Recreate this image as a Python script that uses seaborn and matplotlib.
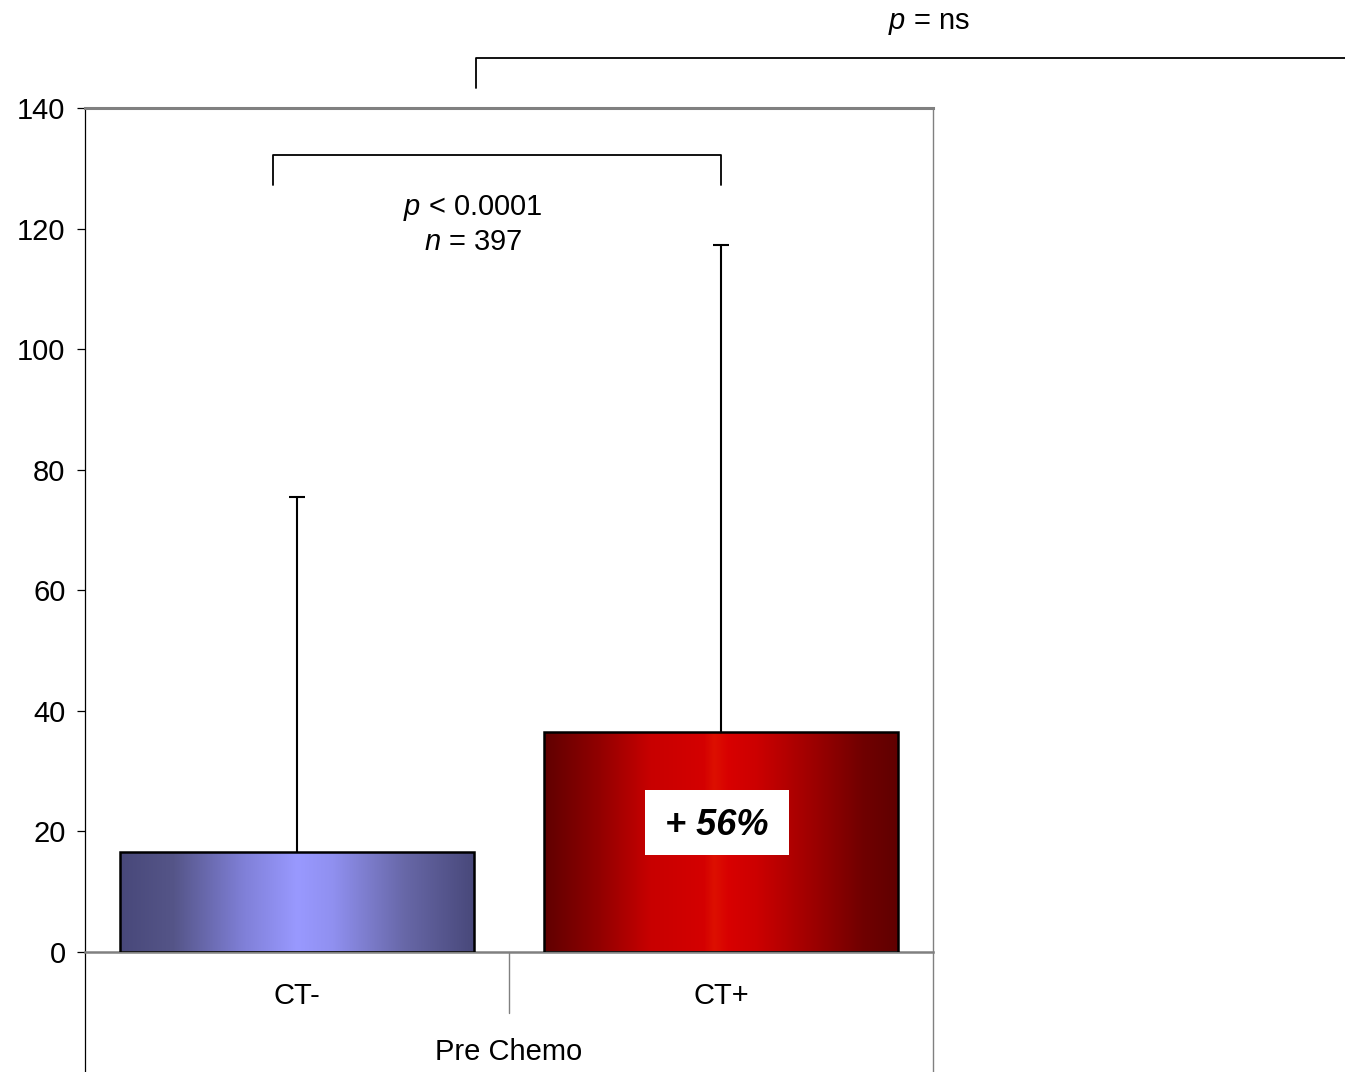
import numpy as np
import pandas as pd
import matplotlib
matplotlib.use("Agg")
import matplotlib.pyplot as plt
from matplotlib.patches import Rectangle
from matplotlib.colors import LinearSegmentedColormap
import seaborn as sns

# ---- data ----
categories = ["CT-", "CT+"]
means = [16.6, 36.5]
upper_sd = [58.9, 80.8]          # error above the bar top
group_label = "Pre Chemo"
yticks = [0, 20, 40, 60, 80, 100, 120, 140]
inner_text = ["$p$ < 0.0001", "$n$ = 397"]
outer_text = "$p$ = ns"
pct_text = "+ 56%"

sns.set_theme(style="white")
plt.rcParams["font.family"] = ["Liberation Sans", "DejaVu Sans"]
plt.rcParams["mathtext.fontset"] = "custom"
plt.rcParams["mathtext.rm"] = "Liberation Sans"
plt.rcParams["mathtext.it"] = "Liberation Sans:italic"
plt.rcParams["text.color"] = "black"
plt.rcParams["ytick.color"] = "black"
plt.rcParams["ytick.labelcolor"] = "black"

W, H = 1345, 1072
fig = plt.figure(figsize=(W / 100, H / 100), dpi=100)
L, R, T, B = 85, 933, 108, 952
ax = fig.add_axes([L / W, 1 - B / H, (R - L) / W, (B - T) / H])

df = pd.DataFrame({"cat": categories, "val": means})
sns.barplot(data=df, x="cat", y="val", ax=ax, width=0.835, errorbar=None,
            color="white", edgecolor="black", linewidth=1.8)

grads = [
    [(0.0, "#48487a"), (0.15, "#555588"), (0.35, "#8080d8"), (0.5, "#9999ff"),
     (0.6, "#9090f0"), (0.8, "#6868a8"), (1.0, "#48487a")],
    [(0.0, "#600000"), (0.15, "#900000"), (0.3, "#c80000"), (0.45, "#d40000"),
     (0.48, "#dd1000"), (0.52, "#d80000"), (0.6, "#cc0000"), (0.75, "#a00000"),
     (0.9, "#700000"), (1.0, "#600000")],
]
for patch, cols in zip(ax.patches, grads):
    x0, y0 = patch.get_x(), patch.get_y()
    w, h = patch.get_width(), patch.get_height()
    cmap = LinearSegmentedColormap.from_list("g", cols)
    grad = np.linspace(0, 1, 512).reshape(1, -1)
    im = ax.imshow(grad, extent=[x0, x0 + w, y0, y0 + h], aspect="auto",
                   cmap=cmap, zorder=2, interpolation="bilinear")
    im.set_clip_path(patch)
    patch.set_facecolor("none")
    patch.set_zorder(3)

ax.set_xlim(-0.5, 1.5)
ax.set_ylim(0, 140)

# error bars (upper only)
xs = np.arange(len(categories))
tops = np.array(means) + np.array(upper_sd)
ax.vlines(xs, means, tops, color="black", lw=1.5, zorder=2.5)
ax.hlines(tops, xs - 0.02, xs + 0.02, color="black", lw=1.5, zorder=2.5)

# spines
for s in ["top", "right", "bottom"]:
    ax.spines[s].set_color("#808080")
ax.spines["top"].set_linewidth(2.2)
ax.spines["right"].set_linewidth(1.0)
ax.spines["bottom"].set_linewidth(1.8)
ax.spines["left"].set_color("black")
ax.spines["left"].set_linewidth(0.9)

ax.set_yticks(yticks)
ax.tick_params(axis="y", left=True, length=6, width=0.9, pad=8,
               labelsize=21, colors="black")
ax.set_xticks([])
ax.set_xlabel("")
ax.set_ylabel("")

# category axis box
tr = ax.transAxes
ax.plot([0, 0], [0, -0.143], color="black", lw=0.9, transform=tr, clip_on=False)
ax.plot([1, 1], [0, -0.143], color="#808080", lw=1.0, transform=tr, clip_on=False)
ax.plot([0.5, 0.5], [0, -0.072], color="#808080", lw=1.0, transform=tr, clip_on=False)
for i, c in enumerate(categories):
    ax.text(i, -0.052, c, transform=ax.get_xaxis_transform(), ha="center",
            va="center", fontsize=21, color="black")
ax.text(0.5, -0.119, group_label, transform=tr, ha="center", va="center",
        fontsize=21, color="black")

# brackets
ax.plot([-0.057, -0.057, 1.0, 1.0], [127.2, 132.2, 132.2, 127.2],
        color="black", lw=1.3, clip_on=False)
ax.plot([0.422, 0.422, 2.6], [143.3, 148.3, 148.3],
        color="black", lw=1.3, clip_on=False)
ax.text(0.415, 123.4, inner_text[0], ha="center", va="center", fontsize=21, color="black")
ax.text(0.415, 117.7, inner_text[1], ha="center", va="center", fontsize=21, color="black")
ax.text(1.49, 154.1, outer_text, ha="center", va="center", fontsize=21,
        clip_on=False, color="black")

# +56% box
ax.add_patch(Rectangle((0.821, 16.1), 0.339, 10.8, facecolor="white",
                       edgecolor="none", zorder=4))
ax.text(0.99, 21.0, pct_text, ha="center", va="center", fontsize=26,
        fontweight="bold", fontstyle="italic", zorder=5, color="black")

fig.savefig("out.png", dpi=100)
